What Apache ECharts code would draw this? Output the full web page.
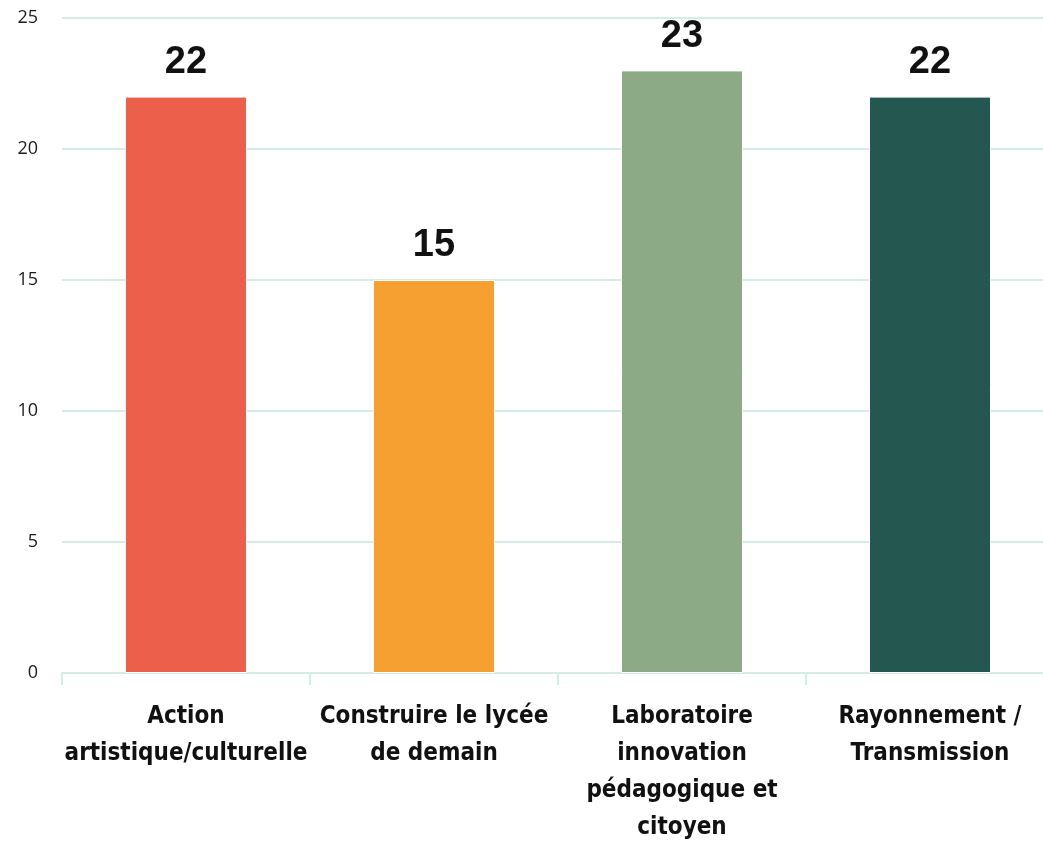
<!DOCTYPE html>
<html>
<head>
<meta charset="utf-8">
<script src="https://cdn.jsdelivr.net/npm/echarts@6/dist/echarts.min.js"></script>
<style>
  html, body { margin: 0; padding: 0; background: #fff; }
  #chart { width: 1043px; height: 841px; }
</style>
</head>
<body>
<div id="chart"></div>
<script>
// données
var categories = ['Action\nartistique/culturelle', 'Construire le lycée\nde demain', 'Laboratoire\ninnovation\npédagogique et\ncitoyen', 'Rayonnement /\nTransmission'];
var values = [22, 15, 23, 22];
var barColors = ['#EB5F4B', '#F5A030', '#8BAA85', '#255751'];
var yTicks = [0, 5, 10, 15, 20, 25];

var chart = echarts.init(document.getElementById('chart'));
var option = {
    animation: false,
    grid: { left: 62, top: 18, width: 992, height: 655, containLabel: false, outerBoundsMode: 'none' },
    xAxis: {
        type: 'category',
        data: categories,
        axisLine: { lineStyle: { color: '#D5EBE8', width: 2 } },
        axisTick: { show: true, length: 12, lineStyle: { color: '#D5EBE8', width: 2 } },
        axisLabel: {
            color: '#111',
            fontFamily: 'DejaVu Sans Condensed',
            fontWeight: 'bold',
            fontSize: 24,
            lineHeight: 37,
            margin: 25,
            interval: 0
        }
    },
    yAxis: {
        type: 'value',
        min: yTicks[0],
        max: yTicks[yTicks.length - 1],
        interval: 5,
        axisLine: { show: false },
        axisTick: { show: false },
        splitLine: { lineStyle: { color: '#D5EBE8', width: 2 } },
        axisLabel: { color: '#1a1a1a', fontFamily: 'Open Sans', fontSize: 18, margin: 24, padding: [5, 0, 0, 0] }
    },
    series: [{
        type: 'bar',
        barWidth: 122,
        data: values.map(function (v, i) {
            return { value: v, itemStyle: { color: barColors[i], borderColor: '#fff', borderWidth: 1 } };
        }),
        label: {
            show: true,
            position: 'top',
            distance: 15,
            color: '#111',
            fontFamily: 'Liberation Sans',
            fontWeight: 'bold',
            fontSize: 38
        }
    }]
};
chart.setOption(option);
</script>
</body>
</html>
